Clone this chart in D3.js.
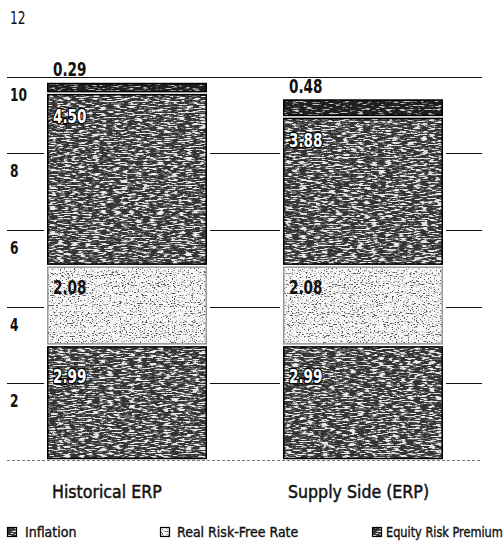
<!DOCTYPE html>
<html>
<head>
<meta charset="utf-8">
<script src="https://cdn.jsdelivr.net/npm/d3@7"></script>
<style>
  html, body { margin: 0; padding: 0; background: #fff; }
  svg { display: block; font-family: "DejaVu Sans", sans-serif; }
</style>
</head>
<body>
<svg id="chart" width="504" height="544"></svg>
<script>
// Components of the cost of equity, in percent
const categories = ["Historical ERP", "Supply Side (ERP)"];
const inflation = [2.99, 2.99];
const realRiskFree = [2.08, 2.08];
const equityRiskPremium = [4.50, 3.88];
const residual = [0.29, 0.48];
const yTicks = [2, 4, 6, 8, 10, 12];
const legendLabels = ["Inflation", "Real Risk-Free Rate", "Equity Risk Premium"];

const keys = ["inflation", "realRiskFree", "equityRiskPremium", "residual"];
const table = categories.map((c, i) => ({
  category: c,
  inflation: inflation[i],
  realRiskFree: realRiskFree[i],
  equityRiskPremium: equityRiskPremium[i],
  residual: residual[i]
}));

const svg = d3.select("#chart");
const defs = svg.append("defs");

// Screen-tone textures built from thresholded, horizontally stretched noise
function tone(id, freq, seed, table) {
  const f = defs.append("filter").attr("id", id)
    .attr("x", 0).attr("y", 0).attr("width", 1).attr("height", 1)
    .attr("color-interpolation-filters", "sRGB");
  f.append("feTurbulence").attr("type", "fractalNoise")
    .attr("baseFrequency", freq).attr("numOctaves", 2).attr("seed", seed).attr("result", "n");
  f.append("feColorMatrix").attr("in", "n").attr("type", "matrix")
    .attr("values", "1 0 0 0 0  1 0 0 0 0  1 0 0 0 0  0 0 0 0 1").attr("result", "g");
  const ct = f.append("feComponentTransfer").attr("in", "g").attr("result", "t");
  ["feFuncR", "feFuncG", "feFuncB"].forEach(fn =>
    ct.append(fn).attr("type", "discrete").attr("tableValues", table));
  f.append("feComposite").attr("in", "t").attr("in2", "SourceGraphic").attr("operator", "in");
}
tone("toneDark", "0.14 0.75", 4, "0.2 0.2 0.2 0.2 0.2 0.22 0.45 0.85 0.92 0.95 0.95 0.95");
tone("toneDarker", "0.14 0.75", 9, "0.12 0.12 0.12 0.12 0.12 0.12 0.15 0.45 0.75 0.8 0.8 0.8");
tone("toneLight", "0.5 0.9", 7, "0.35 0.35 0.35 0.35 0.7 0.97 0.97 0.97 0.97 0.97 0.97 0.97");

const filters = {
  inflation: "url(#toneDark)",
  realRiskFree: "url(#toneLight)",
  equityRiskPremium: "url(#toneDark)",
  residual: "url(#toneDarker)"
};
const strokes = {
  inflation: "#000",
  realRiskFree: "#999",
  equityRiskPremium: "#000",
  residual: "#000"
};
// baseline offset of each value label below its segment top
const labelOffset = { inflation: 38, realRiskFree: 28, equityRiskPremium: 30 };

// condensed type: place text at (x, y) and squeeze it horizontally
function place(sel, fx, fy, sx) {
  sel.attr("transform", (d, i) => `translate(${fx(d, i)},${fy(d, i)}) scale(${sx},1)`);
}

const y = d3.scaleLinear().domain([0, 12]).range([460, 0]);
const x = d3.scaleBand().domain(categories).range([47, 443]).paddingInner(0.322).paddingOuter(0);

const stacked = d3.stack().keys(keys)(table);
const totals = table.map(r => d3.sum(keys, k => r[k]));

// Gridlines and tick labels (labels sit just below their lines)
svg.append("g").selectAll("line").data(yTicks.filter(t => t < 12)).join("line")
  .attr("x1", 7).attr("x2", 482)
  .attr("y1", d => Math.round(y(d)) + 0.5).attr("y2", d => Math.round(y(d)) + 0.5)
  .attr("stroke", "#111").attr("stroke-width", 1);
svg.append("line")
  .attr("x1", 7).attr("x2", 482).attr("y1", y(0) + 0.5).attr("y2", y(0) + 0.5)
  .attr("stroke", "#777").attr("stroke-width", 1).attr("stroke-dasharray", "3,2");

svg.append("g").selectAll("text").data(yTicks).join("text")
  .attr("font-size", 18).attr("font-weight", d => d === 12 ? "normal" : "bold").attr("fill", "#111")
  .text(d => d)
  .call(place, () => 10, d => y(d) + 24, 0.68);

// White clearance around each bar
svg.append("g").selectAll("rect").data(categories).join("rect")
  .attr("x", d => x(d) - 3).attr("width", x.bandwidth() + 6)
  .attr("y", (d, i) => y(totals[i]) - 2).attr("height", (d, i) => y(0) - y(totals[i]) + 1)
  .attr("fill", "#fff");

const segs = stacked.flatMap(s => s.map(d => ({ key: s.key, d })));

const segX = o => x(o.d.data.category) + 0.75;
const segY = o => y(o.d[1]) + 1.5;
const segH = o => Math.max(1, y(o.d[0]) - y(o.d[1]) - 3);

// textured fills
svg.append("g").selectAll("rect").data(segs).join("rect")
  .attr("x", segX).attr("width", x.bandwidth() - 1.5)
  .attr("y", segY).attr("height", segH)
  .attr("fill", "#000")
  .attr("filter", o => filters[o.key]);
// outlines
svg.append("g").selectAll("rect").data(segs).join("rect")
  .attr("x", segX).attr("width", x.bandwidth() - 1.5)
  .attr("y", segY).attr("height", segH)
  .attr("fill", "none")
  .attr("stroke", o => strokes[o.key])
  .attr("stroke-width", 1.5);

// Value labels
const dark = k => k === "inflation" || k === "equityRiskPremium";
svg.append("g").selectAll("text").data(segs).join("text")
  .attr("font-size", 20).attr("font-weight", "bold")
  .attr("fill", o => dark(o.key) ? "#fff" : "#111")
  .attr("stroke", o => dark(o.key) ? "#000" : "none")
  .attr("stroke-width", 3)
  .attr("paint-order", "stroke")
  .text(o => (o.d[1] - o.d[0]).toFixed(2))
  .call(place,
    o => x(o.d.data.category) + 6,
    o => o.key === "residual" ? y(o.d[1]) - 6 : y(o.d[1]) + labelOffset[o.key],
    0.68);

// Category labels
svg.append("g").selectAll("text").data(categories).join("text")
  .attr("font-size", 18).attr("fill", "#111")
  .attr("stroke", "#111").attr("stroke-width", 0.5)
  .text(d => d)
  .call(place, d => x(d) + 5, () => 498, 0.88);

// Legend
const legendX = [7, 160, 372];
const legendFilter = ["url(#toneDark)", "url(#toneLight)", "url(#toneDark)"];
const lg = svg.append("g").selectAll("g").data(legendLabels).join("g")
  .attr("transform", (d, i) => `translate(${legendX[i]},527)`);
lg.append("rect").attr("x", 0.5).attr("y", 0.5).attr("width", 9).attr("height", 9)
  .attr("fill", "#000").attr("filter", (d, i) => legendFilter[i]);
lg.append("rect").attr("x", 0.5).attr("y", 0.5).attr("width", 9).attr("height", 9)
  .attr("fill", "none").attr("stroke", "#000").attr("stroke-width", 1.2);
const lt = lg.append("text").attr("font-size", 14).attr("fill", "#111")
  .attr("stroke", "#111").attr("stroke-width", 0.4)
  .text(d => d);
lt.each(function (d, i) {
  const tx = i === 0 ? 18 : i === 1 ? 17 : 14;
  const len = this.getComputedTextLength();
  const sx = Math.min(0.9, (503 - legendX[i] - tx) / len);
  d3.select(this).attr("transform", `translate(${tx},10) scale(${sx},1)`);
});
</script>
</body>
</html>
